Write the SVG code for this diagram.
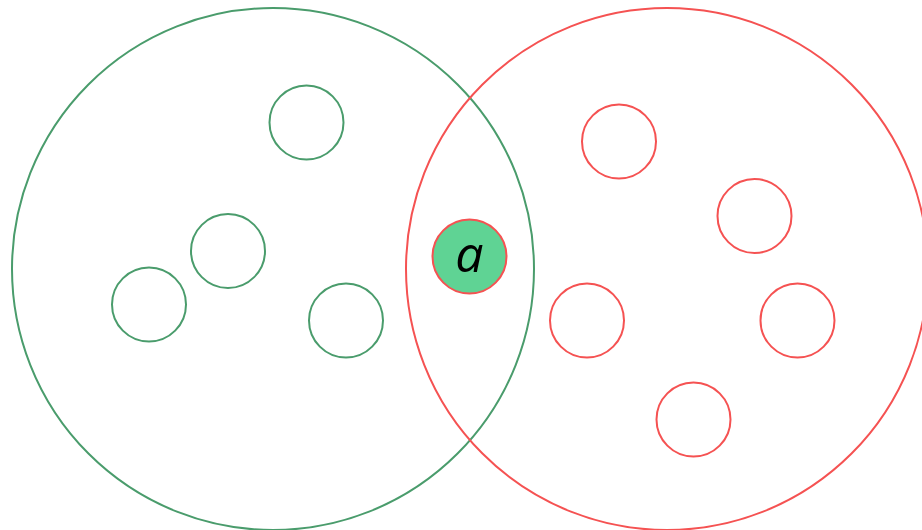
<svg xmlns="http://www.w3.org/2000/svg" width="922" height="530" viewBox="0 0 922 530">
<style>
.g{fill:none;stroke:#4a9c6c;stroke-width:2}
.r{fill:none;stroke:#f55252;stroke-width:2}
.t{font-family:"Open Sans",sans-serif;font-style:italic;font-size:50px;fill:#000}
</style>
<rect width="922" height="530" fill="#fff"/>
<g id="setA"><circle class="g" cx="273" cy="269" r="261"/></g>
<g id="setB"><circle class="r" cx="667" cy="269" r="261"/></g>
<g id="a1"><circle class="g" cx="306.5" cy="122.5" r="37"/></g>
<g id="a2"><circle class="g" cx="228" cy="251" r="37"/></g>
<g id="a3"><circle class="g" cx="149" cy="304.5" r="37"/></g>
<g id="a4"><circle class="g" cx="346" cy="320.5" r="37"/></g>
<g id="b1"><circle class="r" cx="619" cy="141.5" r="37"/></g>
<g id="b2"><circle class="r" cx="754.5" cy="216" r="37"/></g>
<g id="b3"><circle class="r" cx="587" cy="320.5" r="37"/></g>
<g id="b4"><circle class="r" cx="797.5" cy="320.5" r="37"/></g>
<g id="b5"><circle class="r" cx="693.5" cy="419.5" r="37"/></g>
<g id="elemA"><circle cx="469.5" cy="256.5" r="37" fill="#5fd394" stroke="#f55252" stroke-width="2"/>
<text class="t" x="469.5" y="271.5" text-anchor="middle">a</text></g>
<g id="connectors"/>
</svg>
